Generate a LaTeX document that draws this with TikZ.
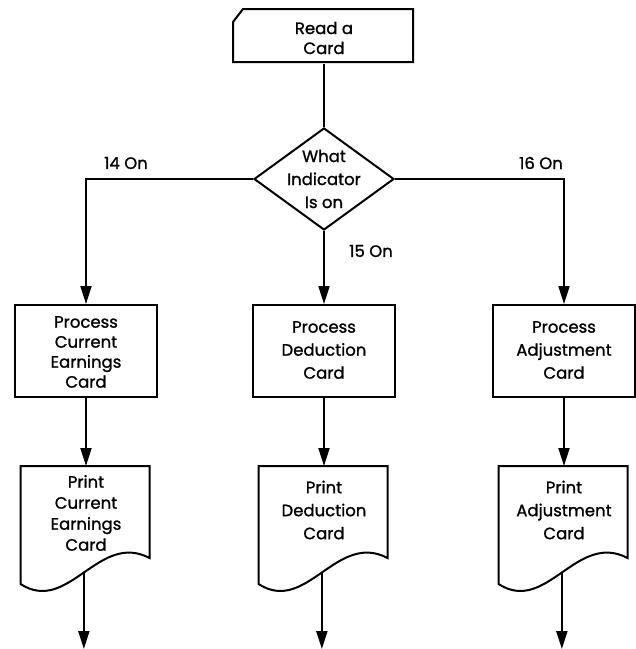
\documentclass[tikz,border=0pt]{standalone}
\usepackage{fontspec}
\setmainfont{Poppins}[FakeBold=1.2]
\usetikzlibrary{arrows.meta,shapes.geometric,calc}
\begin{document}
\begin{tikzpicture}[x=1pt,y=1pt,
  line width=2pt,
  txt/.style={align=center,font=\fontsize{16.5}{20}\selectfont,inner sep=0pt},
  txtw/.style={align=center,font=\fontsize{16.5}{23}\selectfont,inner sep=0pt},
  procbox/.style={draw,rectangle,minimum width=142pt,minimum height=92pt,inner sep=0pt},
  dia/.style={draw,diamond,minimum width=140pt,minimum height=102pt,inner sep=0pt},
  frame/.style={draw=none,rectangle,inner sep=0pt},
  docframe/.style={frame,minimum width=129pt,minimum height=118pt},
  arr/.style={-{Triangle[length=18pt,width=11pt]}},
  lbl/.style={font=\fontsize{16.5}{18}\selectfont,inner sep=0pt}]
\useasboundingbox (0,0) rectangle (636,-649);

% input card with clipped corner
\node[frame,minimum width=180pt,minimum height=53pt] (read) at (324,-36.5) {};
\draw[shift={(read.north west)}] (10,0) -- (180,0) -- (180,-53) -- (0,-53) -- (0,-13) -- cycle;
\node[txt] (readt) at (324,-38) {Read a\\Card};

% decision
\node[dia] (dec) at (324,-179) {};
\node[txtw] (dect) at (324,-179) {What\\Indicator\\Is on};

% processing boxes
\node[procbox] (p1) at (86,-351) {};
\node[txt] (p1t) at (86,-352) {Process\\Current\\Earnings\\Card};
\node[procbox] (p2) at (324,-351) {};
\node[txtw] (p2t) at (324,-350) {Process\\Deduction\\Card};
\node[procbox] (p3) at (564,-351) {};
\node[txtw] (p3t) at (564,-350) {Process\\Adjustment\\Card};

% documents
\foreach \n/\cx in {d1/86,d2/324,d3/564}{
  \node[docframe] (\n) at (\cx,-526) {};
  \draw[shift={(\n.north west)}] (0,0) -- (129,0) -- (129,-92)
    .. controls (78,-65) and (48,-149) .. (0,-118) coordinate[pos=0.5] (w\n) -- cycle;
}
\node[font=\fontsize{16.5}{21}\selectfont,align=center,inner sep=0pt] (d1t) at (86,-513) {Print\\Current\\Earnings\\Card};
\node[txtw] (d2t) at (324,-510) {Print\\Deduction\\Card};
\node[txtw] (d3t) at (564,-510) {Print\\Adjustment\\Card};

% free ends of the outgoing arrows
\coordinate (e1) at (86,-649);
\coordinate (e2) at (324,-649);
\coordinate (e3) at (564,-649);

% connectors
\draw (read.south) -- (dec.north);
\draw[arr] (dec.west) -| (p1.north);
\draw[arr] (dec.south) -- (p2.north);
\draw[arr] (dec.east) -| (p3.north);
\draw[arr] (p1.south) -- (d1.north);
\draw[arr] (p2.south) -- (d2.north);
\draw[arr] (p3.south) -- (d3.north);
\draw[arr] (wd1) -- (wd1 |- e1);
\draw[arr] (wd2) -- (wd2 |- e2);
\draw[arr] (wd3) -- (wd3 |- e3);

% branch labels
\node[lbl] (l14) at (126,-163) {14 On};
\node[lbl] (l16) at (541,-163) {16 On};
\node[lbl] (l15) at (371,-251) {15 On};
\end{tikzpicture}
\end{document}
